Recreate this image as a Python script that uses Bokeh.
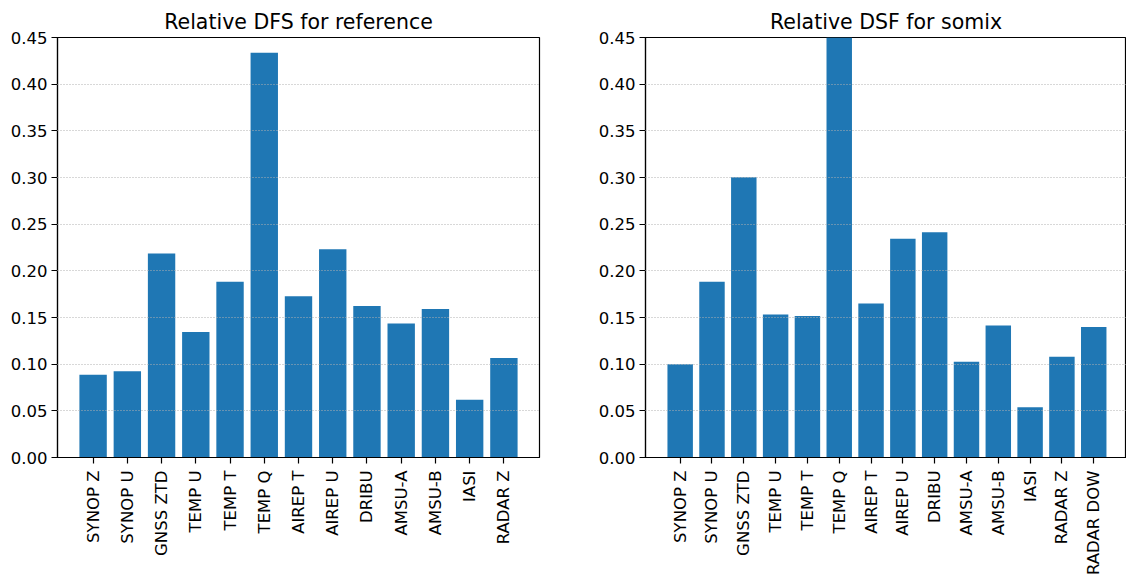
import numpy as np
from bokeh.embed import file_html
from bokeh.layouts import row
from bokeh.models import ColumnDataSource, FixedTicker, PrintfTickFormatter, Range1d
from bokeh.plotting import figure
from bokeh.resources import INLINE

ref_types = ["SYNOP Z", "SYNOP U", "GNSS ZTD", "TEMP U", "TEMP T", "TEMP Q",
             "AIREP T", "AIREP U", "DRIBU", "AMSU-A", "AMSU-B", "IASI", "RADAR Z"]
ref_dfs = [0.0886, 0.0925, 0.2187, 0.1344, 0.1882, 0.4337,
           0.1728, 0.2230, 0.1624, 0.1437, 0.1591, 0.0620, 0.1065]

somix_types = ["SYNOP Z", "SYNOP U", "GNSS ZTD", "TEMP U", "TEMP T", "TEMP Q",
               "AIREP T", "AIREP U", "DRIBU", "AMSU-A", "AMSU-B", "IASI",
               "RADAR Z", "RADAR DOW"]
somix_dfs = [0.1000, 0.1882, 0.3004, 0.1531, 0.1516, 0.4700,
             0.1650, 0.2344, 0.2413, 0.1026, 0.1413, 0.0538,
             0.1080, 0.1398]

y_ticks = [0.00, 0.05, 0.10, 0.15, 0.20, 0.25, 0.30, 0.35, 0.40, 0.45]

FONT = "DejaVu Sans"
BAR_COLOR = "#1f77b4"


def make_panel(title, names, values, x_end, border_left, border_right):
    n = len(names)
    source = ColumnDataSource(data=dict(x=list(range(n)), top=values))

    p = figure(
        title=title,
        frame_width=482 if border_right else 481,
        frame_height=420,
        x_range=Range1d(-0.4 - 0.05 * (n - 0.2), x_end),
        y_range=Range1d(0, 0.45),
        min_border_left=border_left,
        min_border_right=border_right,
        min_border_top=37,
        min_border_bottom=122,
        toolbar_location=None,
        tools="",
        output_backend="svg",
    )
    p.vbar(x="x", top="top", width=0.8, source=source,
           fill_color=BAR_COLOR, line_color=None)

    p.title.text_font = FONT
    p.title.text_font_size = "20.5px"
    p.title.text_font_style = "normal"
    p.title.text_color = "black"
    p.title.align = "center"
    p.title.standoff = 7

    p.outline_line_color = "black"
    p.outline_line_width = 1.2
    p.background_fill_color = "white"
    p.border_fill_color = "white"

    p.xgrid.grid_line_color = None
    p.ygrid.grid_line_color = "#b0b0b0"
    p.ygrid.grid_line_dash = "1 2"
    p.ygrid.grid_line_width = 1
    p.ygrid.level = "annotation"

    p.yaxis.ticker = FixedTicker(ticks=y_ticks)
    p.yaxis.formatter = PrintfTickFormatter(format="%.2f")
    p.xaxis.ticker = FixedTicker(ticks=list(range(n)))
    p.xaxis.major_label_overrides = {i: name for i, name in enumerate(names)}
    p.xaxis.major_label_orientation = np.pi / 2

    for ax in (p.xaxis, p.yaxis):
        ax.axis_line_color = "black"
        ax.axis_line_width = 1.2
        ax.major_tick_line_color = "black"
        ax.major_tick_line_width = 1.2
        ax.major_tick_out = 6
        ax.major_tick_in = 0
        ax.minor_tick_line_color = None
        ax.major_label_text_font = FONT
        ax.major_label_text_color = "black"
        ax.major_label_text_font_size = "16.5px"
    p.yaxis.major_label_standoff = 4
    p.xaxis.major_label_standoff = 7
    return p


left = make_panel("Relative DFS for reference", ref_types, ref_dfs,
                  12.4 + 0.05 * 12.8, 57, 53)
right = make_panel("Relative DSF for somix", somix_types, somix_dfs,
                   14.03, 53, 0)

layout = row(left, right)
open("out.html", "w").write(file_html(layout, INLINE))
